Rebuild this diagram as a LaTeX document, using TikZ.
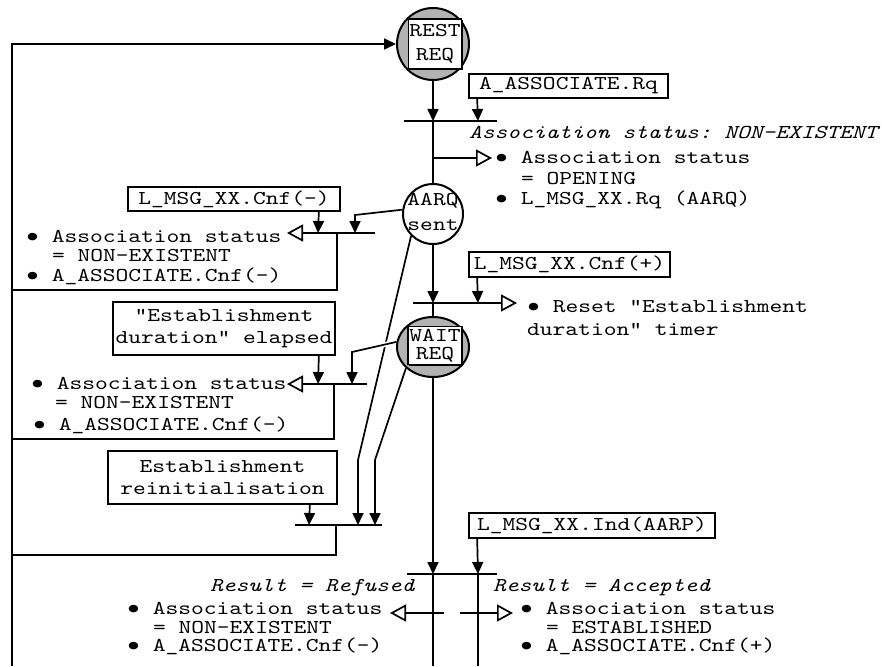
\documentclass[tikz,border=0pt]{standalone}
\usepackage{fontspec}
\usepackage{graphicx}
\setmonofont{lmmono10-regular.otf}[FakeStretch=1.24, ItalicFont=lmmono10-italic.otf]
\usetikzlibrary{arrows.meta,shapes.geometric,shadows}

% bullet occupying two character cells of the typewriter font
\newcommand\bu{\makebox[25.56pt][l]{\makebox[12.78pt][c]{\raisebox{-1.8pt}{\scalebox{1.4}{\textbullet}}}}}

\tikzset{
  every node/.style={font=\ttfamily\fontsize{19.6}{22}\selectfont, inner sep=0pt},
  ln/.style={line width=1.7pt},
  inarr/.style={ln, -{Triangle[length=12pt,width=11pt]}},
  outarr/.style={ln, -{Triangle[open,length=16pt,width=17pt,line width=1.7pt]}},
  msgbox/.style={draw, line width=1.7pt, fill=white, align=center,
    drop shadow={shadow xshift=1.4pt, shadow yshift=-1.4pt, fill=black, opacity=1}},
  statecirc/.style={circle, draw, line width=2pt},
  txt/.style={anchor=base west},
  itxt/.style={anchor=base west, font=\ttfamily\itshape\fontsize{19.6}{22}\selectfont},
}

\begin{document}
\begin{tikzpicture}[x=1pt,y=-1pt]
\useasboundingbox (0,0) rectangle (882,666);

% states
\node[statecirc, fill=black!30, minimum size=72pt] (rest) at (433,44) {};
\node[msgbox, minimum width=53pt, minimum height=50pt,
      font=\ttfamily\fontsize{19.6}{24}\selectfont] (restlbl) at (435,44) {REST\\REQ};
\node[statecirc, fill=white, minimum size=60pt] (aarq) at (433,214) {};
\node[align=center, font=\ttfamily\fontsize{19.6}{25}\selectfont] (aarqlbl) at (433,212) {AARQ\\sent};
\node[ellipse, draw, line width=2pt, fill=black!30, minimum width=72pt, minimum height=60pt] (wait) at (433,347) {};
\node[msgbox, minimum width=54pt, minimum height=38pt,
      font=\ttfamily\fontsize{19.6}{18}\selectfont] (waitlbl) at (435,345.5) {WAIT\\REQ};

% events
\node[msgbox, minimum width=199pt, minimum height=24pt] (areq) at (568.5,86) {A\_ASSOCIATE.Rq};
\node[msgbox, minimum width=212pt, minimum height=24pt] (cnfm) at (234,199) {L\_MSG\_XX.Cnf(-)};
\node[msgbox, minimum width=201pt, minimum height=25pt] (cnfp) at (569.5,264.5) {L\_MSG\_XX.Cnf(+)};
\node[msgbox, minimum width=222pt, minimum height=53pt] (elapsed) at (224,328.5) {"Establishment\\duration" elapsed};
\node[msgbox, minimum width=229pt, minimum height=53pt] (reinit) at (222.5,477.5) {Establishment\\reinitialisation};
\node[msgbox, minimum width=246pt, minimum height=25pt] (ind) at (592,525.5) {L\_MSG\_XX.Ind(AARP)};

% actions and conditions
\node[itxt] (st0) at (469,138) {Association status: NON-EXISTENT};
\node[txt] (t1a) at (495,163) {\bu{}Association status};
\node[txt] (t1b) at (521,184) {= OPENING};
\node[txt] (t1c) at (495,204) {\bu{}L\_MSG\_XX.Rq (AARQ)};

\node[txt] (t2a) at (527,312) {\bu{}Reset "Establishment};
\node[txt] (t2b) at (527,335) {duration" timer};

\node[txt] (t3a) at (26,242) {\bu{}Association status};
\node[txt] (t3b) at (52,261) {= NON-EXISTENT};
\node[txt] (t3c) at (26,281) {\bu{}A\_ASSOCIATE.Cnf(-)};

\node[txt] (t4a) at (31,389) {\bu{}Association status};
\node[txt] (t4b) at (55,408) {= NON-EXISTENT};
\node[txt] (t4c) at (33,430) {\bu{}A\_ASSOCIATE.Cnf(-)};

\node[itxt] (t5r) at (210,591) {Result = Refused};
\node[txt] (t5a) at (127,614) {\bu{}Association status};
\node[txt] (t5b) at (153,633) {= NON-EXISTENT};
\node[txt] (t5c) at (127,651) {\bu{}A\_ASSOCIATE.Cnf(-)};

\node[itxt] (t6r) at (493,591) {Result = Accepted};
\node[txt] (t6a) at (520,614) {\bu{}Association status};
\node[txt] (t6b) at (546,633) {= ESTABLISHED};
\node[txt] (t6c) at (520,651) {\bu{}A\_ASSOCIATE.Cnf(+)};

% transition bars and connection points
\coordinate (b1l) at (404,121); \coordinate (b1r) at (497,121);
\coordinate (b1a) at (433,121); \coordinate (b1b) at (478,121);
\coordinate (o1s) at (433,158); \coordinate (o1e) at (492,158);

\coordinate (b2l) at (413,303); \coordinate (b2e) at (517,303);
\coordinate (b2a) at (433,303); \coordinate (b2b) at (478,303);

\coordinate (b3l) at (407,574); \coordinate (b3r) at (497,574);
\coordinate (b3a) at (433,574); \coordinate (b3b) at (478,574);
\coordinate (e1) at (433,666); \coordinate (e2) at (478,666);
\coordinate (o3s) at (444,613); \coordinate (o3e) at (390,613);
\coordinate (o4s) at (460,613); \coordinate (o4e) at (513,613);

\coordinate (b4r) at (375,233); \coordinate (b4e) at (287,233);
\coordinate (b4a) at (318,233); \coordinate (b4b) at (355,233);
\coordinate (b4d) at (337,233); \coordinate (k4) at (355,215);
\coordinate (r4) at (337,290); \coordinate (l4) at (12,290);

\coordinate (b5r) at (367,384); \coordinate (b5e) at (287,384);
\coordinate (b5a) at (318,384); \coordinate (b5b) at (352,384);
\coordinate (b5d) at (334,384); \coordinate (k5) at (352,352);
\coordinate (r5) at (334,439); \coordinate (l5) at (12,439);

\coordinate (b6l) at (295,525); \coordinate (b6r) at (382,525);
\coordinate (b6a) at (309,525); \coordinate (b6b) at (358,525);
\coordinate (b6c) at (375,525); \coordinate (b6d) at (336,525);
\coordinate (k6a) at (358,460); \coordinate (k6b) at (375,460);
\coordinate (r6) at (336,555); \coordinate (l6) at (12,555);

\coordinate (e0) at (12,666);

\coordinate (c1) at ([xshift=9pt]areq.south west);
\coordinate (c2) at ([xshift=9pt]cnfp.south west);
\coordinate (c3) at ([xshift=9pt]ind.south west);
\coordinate (c4) at ([xshift=-22pt]cnfm.south east);
\coordinate (c5) at ([xshift=-17pt]elapsed.south east);
\coordinate (c6) at ([xshift=-28pt]reinit.south east);

% main path
\draw[inarr] (e0) |- (rest.west);
\draw[ln] (b1l) -- (b1r);
\draw[inarr] (rest.south) -- (b1a);
\draw[inarr] (c1) -- (b1b);
\draw[ln] (b1a) -- (aarq.north);
\draw[outarr] (o1s) -- (o1e);

\draw[outarr] (b2l) -- (b2e);
\draw[inarr] (aarq.south) -- (b2a);
\draw[inarr] (c2) -- (b2b);
\draw[ln] (b2a) -- (wait.north);

\draw[ln] (b3l) -- (b3r);
\draw[inarr] (wait.south) -- (b3a);
\draw[inarr] (c3) -- (b3b);
\draw[ln] (b3a) -- (e1);
\draw[ln] (b3b) -- (e2);
\draw[outarr] (o3s) -- (o3e);
\draw[outarr] (o4s) -- (o4e);

% failure branches
\draw[outarr] (b4r) -- (b4e);
\draw[inarr] (c4) -- (b4a);
\draw[inarr] (aarq.172) -- (k4) -- (b4b);
\draw[ln] (b4d) -- (r4) -- (l4);

\draw[inarr] (aarq.225) -- (k6a) -- (b6b);
\draw[outarr] (b5r) -- (b5e);
\draw[inarr] (c5) -- (b5a);
\draw[white, line width=5pt, shorten >=4pt, shorten <=4pt] (wait.172) -- (k5);
\draw[inarr] (wait.172) -- (k5) -- (b5b);
\draw[ln] (b5d) -- (r5) -- (l5);

\draw[ln] (b6l) -- (b6r);
\draw[inarr] (c6) -- (b6a);
\draw[inarr] (wait.218) -- (k6b) -- (b6c);
\draw[ln] (b6d) -- (r6) -- (l6);
\end{tikzpicture}
\end{document}
